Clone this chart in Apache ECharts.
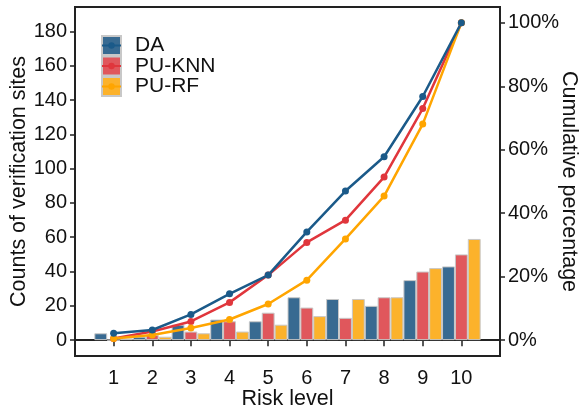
<!DOCTYPE html>
<html>
<head>
<meta charset="utf-8">
<script src="https://cdn.jsdelivr.net/npm/echarts@6/dist/echarts.min.js"></script>
<style>
  html, body { margin: 0; padding: 0; background: #fff; }
  #container { width: 580px; height: 410px; }
</style>
</head>
<body>
<div id="container"></div>
<script>
// categories (empty slots pad the axis by one level on each side)
var levels = ['', '1', '2', '3', '4', '5', '6', '7', '8', '9', '10', ''];
var riskLevels = ['1', '2', '3', '4', '5', '6', '7', '8', '9', '10'];

// counts of verification sites per risk level
var daCounts = [4, 2, 9, 12, 11, 25, 24, 20, 35, 43];
var knnCounts = [0, 3, 5, 11, 16, 19, 13, 25, 40, 50];
var rfCounts = [1, 2, 4, 5, 9, 14, 24, 25, 42, 59];

// cumulative percentage lines
var daCum = [2.2, 3.2, 8.1, 14.6, 20.5, 34.1, 47.0, 57.8, 76.8, 100];
var knnCum = [0.5, 2.7, 5.9, 11.9, 20.5, 30.8, 37.8, 51.4, 73.0, 100];
var rfCum = [0.5, 1.6, 3.8, 6.5, 11.4, 18.9, 31.9, 45.4, 68.1, 100];

// tick labels
var countTicks = [0, 20, 40, 60, 80, 100, 120, 140, 160, 180];
var pctTicks = [0, 20, 40, 60, 80, 100];

var barColors = ['#386a91', '#e0575c', '#fcb22b'];
var lineColors = ['#1b5a89', '#e0363c', '#ffa500'];

function pairs(vals) {
    return riskLevels.map(function (l, i) { return [l, vals[i]]; });
}

var dom = document.getElementById('container');
var myChart = echarts.init(dom);
var font = 'Liberation Sans, Arial, sans-serif';
var axisColor = '#222';

function barSeries(name, vals, color) {
    return {
        name: name,
        type: 'bar',
        data: pairs(vals),
        barGap: '0%',
        barCategoryGap: '0%',
        itemStyle: { color: color, borderColor: '#c8c8c8', borderWidth: 1 },
        emphasis: { disabled: true }
    };
}

function lineSeries(name, vals, color) {
    return {
        name: name,
        type: 'line',
        yAxisIndex: 1,
        data: pairs(vals),
        symbol: 'circle',
        symbolSize: 7,
        lineStyle: { color: color, width: 2.5 },
        itemStyle: { color: color },
        emphasis: { disabled: true },
        z: 3
    };
}

var option = {
    animation: false,
    textStyle: { fontFamily: font },
    grid: {
        left: 75, right: 80, top: 7, bottom: 54,
        containLabel: false,
        outerBoundsMode: 'none',
        show: true, borderColor: axisColor, borderWidth: 2
    },
    legend: [{
        orient: 'vertical',
        left: 101, top: 35,
        padding: 0,
        itemGap: -0.5,
        itemWidth: 19, itemHeight: 19,
        icon: 'rect',
        data: ['DA', 'PU-KNN', 'PU-RF'],
        textStyle: { fontSize: 21, lineHeight: 20, color: '#111', fontFamily: font, padding: [0, 0, 0, 9] },
        selectedMode: false
    }, {
        orient: 'vertical',
        left: 101, top: 35,
        padding: 0,
        itemGap: -0.5,
        itemWidth: 19, itemHeight: 8,
        data: ['DA cum', 'PU-KNN cum', 'PU-RF cum'],
        textStyle: { fontSize: 21, lineHeight: 20, color: 'rgba(0,0,0,0)', fontFamily: font },
        selectedMode: false
    }],
    xAxis: {
        type: 'category',
        data: levels,
        boundaryGap: false,
        name: 'Risk level',
        nameLocation: 'middle',
        nameGap: 32,
        nameMoveOverlap: false,
        nameTextStyle: { fontSize: 21.5, color: '#111' },
        axisLine: { lineStyle: { color: axisColor, width: 2 } },
        axisTick: {
            interval: function (i) { return i > 0 && i < 11; },
            length: 6,
            lineStyle: { color: axisColor, width: 1.5 }
        },
        axisLabel: { interval: 0, fontSize: 20, color: '#111', margin: 12 },
        splitLine: { show: false }
    },
    yAxis: [{
        type: 'value',
        min: -9.25,
        max: 194.25,
        name: 'Counts of verification sites',
        nameLocation: 'middle',
        nameGap: 45,
        nameMoveOverlap: false,
        nameTextStyle: { fontSize: 21.5, color: '#111' },
        axisLine: { show: true, lineStyle: { color: axisColor, width: 2 } },
        axisTick: { show: true, length: 5, customValues: countTicks, lineStyle: { color: axisColor, width: 1.5 } },
        axisLabel: { fontSize: 20, color: '#111', margin: 8, customValues: countTicks },
        splitLine: { show: false }
    }, {
        type: 'value',
        min: -5,
        max: 105,
        name: 'Cumulative percentage',
        nameLocation: 'middle',
        nameRotate: -90,
        nameGap: 58,
        nameMoveOverlap: false,
        nameTextStyle: { fontSize: 21.5, color: '#111' },
        axisLine: { show: true, lineStyle: { color: axisColor, width: 2 } },
        axisTick: { show: true, length: 5, customValues: pctTicks, lineStyle: { color: axisColor, width: 1.5 } },
        axisLabel: {
            fontSize: 20, color: '#111', margin: 8, customValues: pctTicks,
            formatter: function (v) { return v + '%'; }
        },
        splitLine: { show: false }
    }],
    series: [
        barSeries('DA', daCounts, barColors[0]),
        barSeries('PU-KNN', knnCounts, barColors[1]),
        barSeries('PU-RF', rfCounts, barColors[2]),
        lineSeries('PU-KNN cum', knnCum, lineColors[1]),
        lineSeries('PU-RF cum', rfCum, lineColors[2]),
        lineSeries('DA cum', daCum, lineColors[0])
    ]
};

myChart.setOption(option);
</script>
</body>
</html>
